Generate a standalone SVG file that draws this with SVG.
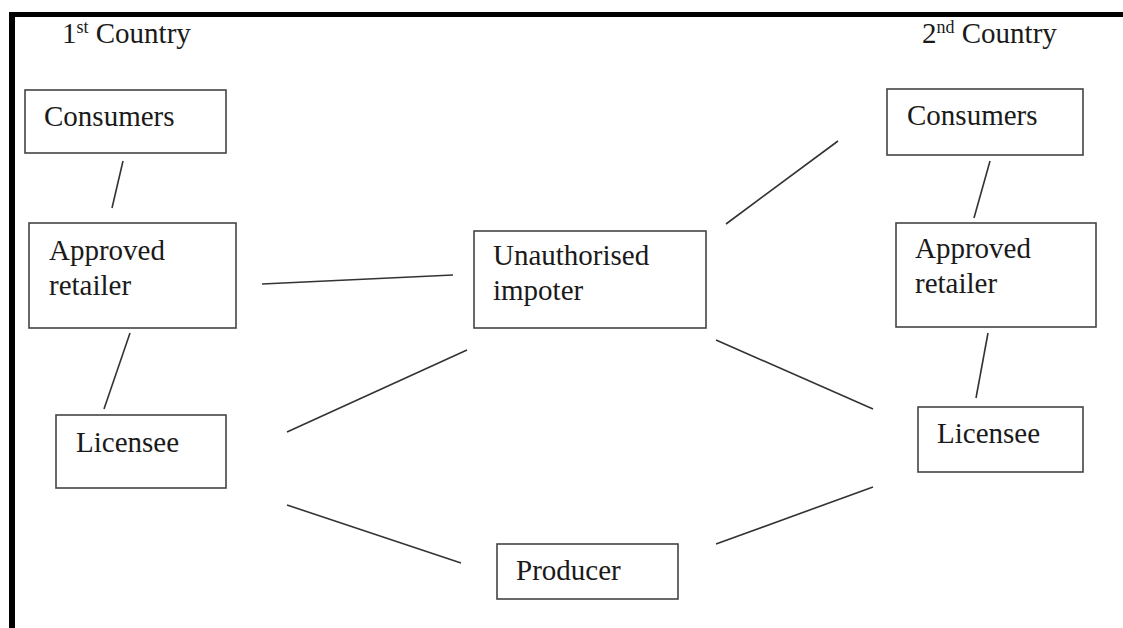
<svg xmlns="http://www.w3.org/2000/svg" width="1123" height="628" viewBox="0 0 1123 628">
<style>
text{font-family:"Liberation Serif","Times New Roman",serif;font-size:29px;fill:#1a1a1a}
.sup{font-size:18px}
.box{fill:#fff;stroke:#444;stroke-width:1.6}
.ln{stroke:#333;stroke-width:1.6;fill:none}
.frame{stroke:#000;fill:none}
</style>
<rect width="1123" height="628" fill="#fff"/>
<g id="frame">
<line class="frame" x1="12" y1="12" x2="12" y2="628" stroke-width="6"/>
<line class="frame" x1="9" y1="14.5" x2="1123" y2="14.5" stroke-width="5"/>
</g>
<g id="labels">
<text x="62" y="43">1<tspan class="sup" dy="-10">st</tspan><tspan dy="10"> Country</tspan></text>
<text x="922" y="43">2<tspan class="sup" dy="-10">nd</tspan><tspan dy="10"> Country</tspan></text>
</g>
<g id="connectors">
<line class="ln" x1="123" y1="161" x2="112" y2="208"/>
<line class="ln" x1="130" y1="333" x2="104" y2="409"/>
<line class="ln" x1="262" y1="284" x2="453" y2="275"/>
<line class="ln" x1="287" y1="432" x2="467" y2="350"/>
<line class="ln" x1="287" y1="505" x2="461" y2="563"/>
<line class="ln" x1="716" y1="544" x2="873" y2="487"/>
<line class="ln" x1="716" y1="340" x2="873" y2="409"/>
<line class="ln" x1="726" y1="224" x2="838" y2="141"/>
<line class="ln" x1="990" y1="161" x2="974" y2="218"/>
<line class="ln" x1="988" y1="333" x2="976" y2="398"/>
</g>
<g id="consumers1">
<rect class="box" x="25" y="90" width="201" height="63"/>
<text x="44" y="126">Consumers</text>
</g>
<g id="retailer1">
<rect class="box" x="29" y="223" width="207" height="105"/>
<text x="49" y="260">Approved</text>
<text x="49" y="295">retailer</text>
</g>
<g id="licensee1">
<rect class="box" x="56" y="415" width="170" height="73"/>
<text x="76" y="452">Licensee</text>
</g>
<g id="importer">
<rect class="box" x="474" y="231" width="232" height="97"/>
<text x="493" y="265">Unauthorised</text>
<text x="493" y="300">impoter</text>
</g>
<g id="producer">
<rect class="box" x="497" y="544" width="181" height="55"/>
<text x="516" y="580">Producer</text>
</g>
<g id="consumers2">
<rect class="box" x="887" y="89" width="196" height="66"/>
<text x="907" y="125">Consumers</text>
</g>
<g id="retailer2">
<rect class="box" x="896" y="223" width="200" height="104"/>
<text x="915" y="258">Approved</text>
<text x="915" y="293">retailer</text>
</g>
<g id="licensee2">
<rect class="box" x="918" y="407" width="165" height="65"/>
<text x="937" y="443">Licensee</text>
</g>
</svg>
